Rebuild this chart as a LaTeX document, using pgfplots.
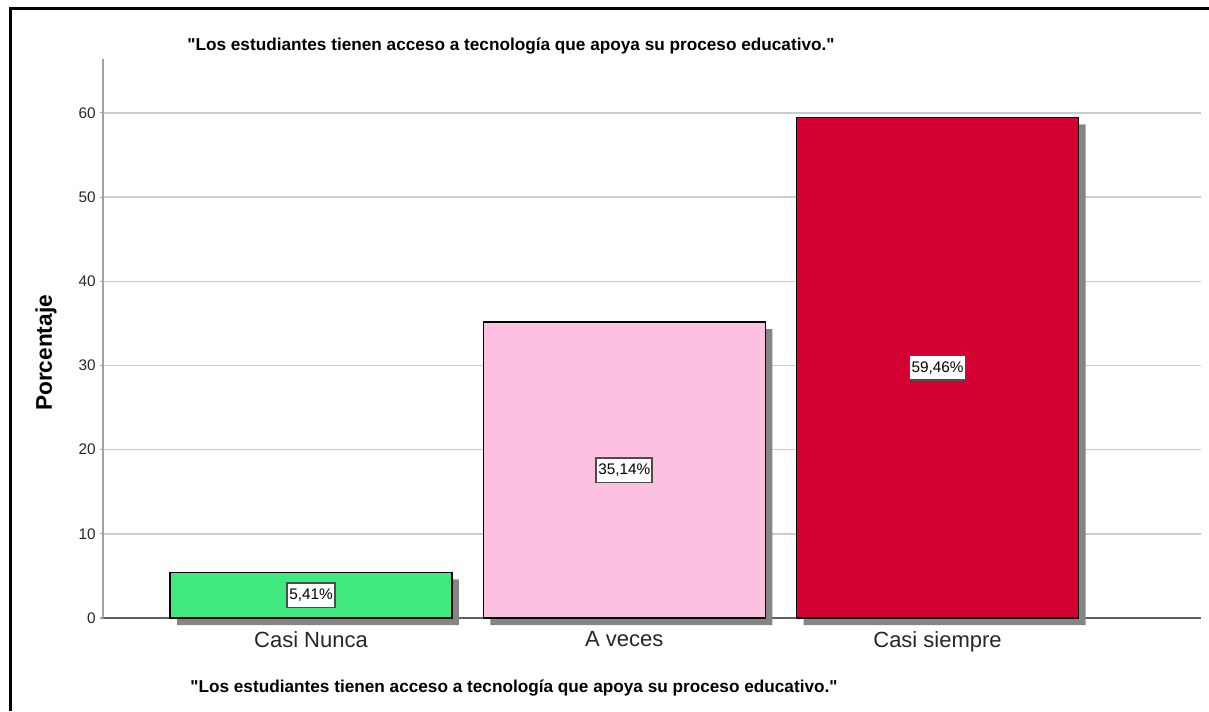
\documentclass[border=0pt]{standalone}
\usepackage{fontspec}
\setmainfont{Liberation Sans}[Ligatures=TeXOff]
\usepackage{pgfplots}
\pgfplotsset{compat=1.18}
\definecolor{cgreen}{HTML}{3FE97F}
\definecolor{cpink}{HTML}{FCC1E0}
\definecolor{cred}{HTML}{D50032}
\definecolor{cshadow}{HTML}{858585}
\definecolor{cgrid}{HTML}{CCCCCC}
\definecolor{cyax}{HTML}{A0A0A0}
\definecolor{cxax}{HTML}{606060}
\begin{document}
\begin{tikzpicture}[x=0.75pt,y=0.75pt]
\useasboundingbox (0,0) rectangle (1209,711);
% frame (left and top)
\draw[line width=1.8pt] (10.5,0) -- (10.5,702.5) -- (1209,702.5);
\begin{axis}[
  at={(77.25pt,69.75pt)}, anchor=south west,
  scale only axis, width=823.5pt, height=419.25pt,
  xmin=-0.664, xmax=2.841, ymin=0, ymax=66.4,
  axis x line*=bottom, axis y line*=left,
  x axis line style={draw=cxax, line width=1.1pt, -},
  y axis line style={draw=cyax, line width=1.1pt, -},
  xtick={0,1,2}, xticklabels={Casi Nunca, A veces, Casi siempre},
  xtick style={draw=none},
  ytick={0,10,20,30,40,50,60},
  ytick style={draw=cyax, line width=0.8pt},
  tick align=outside, major tick length=2.5pt,
  ymajorgrids, grid style={draw=cgrid, line width=1.1pt},
  /pgf/number format/assume math mode=true,
  yticklabel style={font=\fontsize{11.5}{13}\selectfont, text=black!85, xshift=0.5pt},
  xticklabel style={font=\fontsize{16.5}{18}\selectfont, text=black!85, yshift=-4pt},
  clip=false,
]
% shadows
\addplot[ybar, bar width=0.9, bar shift=0pt, fill=cshadow, draw=none, xshift=5.25pt, yshift=-5.25pt]
  coordinates {(0,5.41) (1,35.14) (2,59.46)};
% bars
\addplot[ybar, bar width=0.9, bar shift=0pt, fill=cgreen, draw=black, line width=1.1pt]
  coordinates {(0,5.41)};
\addplot[ybar, bar width=0.9, bar shift=0pt, fill=cpink, draw=black, line width=1.1pt]
  coordinates {(1,35.14)};
\addplot[ybar, bar width=0.9, bar shift=0pt, fill=cred, draw=black, line width=1.1pt]
  coordinates {(2,59.46)};
% value labels at bar middles
\addplot[draw=none, mark=none, point meta=explicit symbolic,
  nodes near coords={\pgfplotspointmeta\%},
  every node near coord/.style={anchor=center, fill=white, draw=black!70, line width=1.2pt,
    inner xsep=1.5pt, inner ysep=0pt, minimum height=18.5pt,
    font=\fontsize{11.5}{13}\selectfont}]
  table[meta=lab] {
x y lab
0 2.705 5,41
1 17.57 35,14
2 29.73 59,46
};
\end{axis}
\node[font=\bfseries\fontsize{12.9}{15}\selectfont] at (511,665) {"Los estudiantes tienen acceso a tecnología que apoya su proceso educativo."};
\node[font=\bfseries\fontsize{12.9}{15}\selectfont] at (514,23) {"Los estudiantes tienen acceso a tecnología que apoya su proceso educativo."};
\node[font=\bfseries\fontsize{17}{20}\selectfont, rotate=90] at (46,358) {Porcentaje};
\end{tikzpicture}
\end{document}
